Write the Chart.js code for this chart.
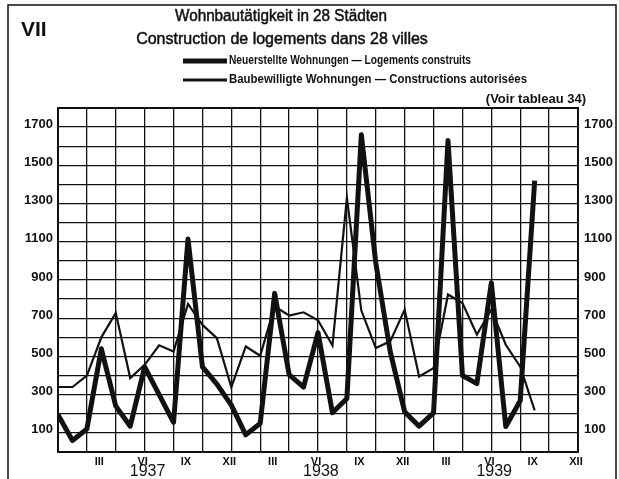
<!DOCTYPE html>
<html>
<head>
<meta charset="utf-8">
<script src="https://cdn.jsdelivr.net/npm/chart.js@4"></script>
<style>
  html, body { margin: 0; padding: 0; background: #fff; }
</style>
</head>
<body>
<canvas id="chart" width="619" height="479"></canvas>
<script>
// monthly values, index 0 = Dec 1936 ... 33 = Sep 1939
const neuerstellte = [195, 60, 120, 540, 240, 135, 445, 300, 155, 1115, 445, 355,
    245, 90, 150, 830, 405, 340, 625, 205, 280, 1660, 990, 525,
    210, 135, 205, 1630, 400, 358, 885, 133, 268, 1420];
const baubewilligte = [340, 340, 400, 600, 728, 387, 456, 558, 526, 775, 665, 596,
    339, 552, 504, 762, 714, 731, 689, 557, 1330, 740, 544, 579,
    745, 395, 439, 824, 780, 614, 745, 561, 446, 218];
const quarterLabels = ['III', 'VI', 'IX', 'XII'];
const years = ['1937', '1938', '1939'];
const titleLines = ['Wohnbautätigkeit in 28 Städten', 'Construction de logements dans 28 villes'];
const legendLabels = ['Neuerstellte Wohnungen — Logements construits',
    'Baubewilligte Wohnungen — Constructions autorisées'];
const note = '(Voir tableau 34)';

const FONT = '"Liberation Sans", Arial, sans-serif';

const decor = {
    id: 'decor',
    afterDraw(chart) {
        const ctx = chart.ctx;
        const xs = chart.scales.x;
        ctx.save();
        // outer frame
        ctx.strokeStyle = '#111';
        ctx.lineWidth = 1.5;
        ctx.beginPath();
        ctx.moveTo(8, 479); ctx.lineTo(8, 5); ctx.lineTo(616, 5); ctx.lineTo(616, 479);
        ctx.stroke();

        ctx.fillStyle = '#111';
        ctx.textBaseline = 'middle';
        ctx.textAlign = 'left';
        ctx.font = 'bold 21px ' + FONT;
        ctx.fillText('VII', 21, 30);

        // titles, slightly heavier than regular
        ctx.textAlign = 'center';
        ctx.font = '16px ' + FONT;
        ctx.lineWidth = 0.5;
        ctx.fillText(titleLines[0], 281, 17, 212);
        ctx.strokeText(titleLines[0], 281, 17, 212);
        ctx.fillText(titleLines[1], 282, 40, 300);
        ctx.strokeText(titleLines[1], 282, 40, 300);

        // legend
        ctx.textAlign = 'left';
        ctx.font = 'bold 12px ' + FONT;
        ctx.lineCap = 'butt';
        ctx.lineWidth = 5;
        ctx.beginPath(); ctx.moveTo(183, 61); ctx.lineTo(227, 61); ctx.stroke();
        ctx.fillText(legendLabels[0], 229, 61, 242);
        ctx.lineWidth = 3;
        ctx.beginPath(); ctx.moveTo(183, 80); ctx.lineTo(227, 80); ctx.stroke();
        ctx.fillText(legendLabels[1], 229, 80, 298);
        ctx.textAlign = 'right';
        ctx.font = 'bold 13px ' + FONT;
        ctx.fillText(note, 586, 99);

        // years under the month labels
        ctx.textAlign = 'center';
        ctx.font = '16px ' + FONT;
        years.forEach((yr, i) => {
            ctx.fillText(yr, xs.getPixelForValue(i * 12 + 6.2), 472);
        });
        ctx.restore();
    }
};

const yTick = v => (v % 200 === 100 ? String(v) : '');

new Chart(document.getElementById('chart'), {
    type: 'line',
    data: {
        datasets: [{
            label: legendLabels[0],
            data: neuerstellte.map((v, i) => ({ x: i, y: v })),
            borderColor: '#111',
            borderWidth: 5,
            borderJoinStyle: 'round',
            pointRadius: 0,
            tension: 0
        }, {
            label: legendLabels[1],
            data: baubewilligte.map((v, i) => ({ x: i, y: v })),
            borderColor: '#111',
            borderWidth: 2.2,
            pointRadius: 0,
            tension: 0
        }]
    },
    options: {
        responsive: false,
        animation: false,
        layout: { padding: { top: 108, left: 0, right: 0, bottom: 0 } },
        plugins: { legend: { display: false }, tooltip: { enabled: false }, title: { display: false } },
        scales: {
            x: {
                type: 'linear',
                min: 0,
                max: 36,
                afterFit(scale) { scale.height = 27; },
                border: { display: true, color: '#111', width: 2 },
                grid: {
                    drawTicks: false,
                    lineWidth: 1.3,
                    color: c => (c.tick && c.tick.value % 2 === 0 ? '#111' : 'rgba(0,0,0,0)')
                },
                ticks: {
                    stepSize: 1,
                    autoSkip: false,
                    maxRotation: 0,
                    padding: 3,
                    labelOffset: -2,
                    color: '#111',
                    font: { family: FONT, size: 11, weight: 'bold' },
                    callback: v => (v > 0 && v % 3 === 0 ? quarterLabels[(v / 3 - 1) % 4] : '')
                }
            },
            y: {
                min: 0,
                max: 1800,
                afterFit(scale) { scale.width = 58; },
                border: { display: true, color: '#111', width: 2 },
                grid: {
                    drawTicks: false,
                    lineWidth: c => (c.tick && c.tick.value === 1800 ? 2 : 1.3),
                    color: '#111'
                },
                ticks: {
                    stepSize: 100,
                    padding: 5,
                    labelOffset: -3,
                    color: '#111',
                    font: { family: FONT, size: 13, weight: 'bold' },
                    callback: yTick
                }
            },
            y2: {
                position: 'right',
                min: 0,
                max: 1800,
                afterFit(scale) { scale.width = 41; },
                border: { display: true, color: '#111', width: 2 },
                grid: { display: false, drawTicks: false },
                ticks: {
                    stepSize: 100,
                    padding: 6,
                    labelOffset: -3,
                    color: '#111',
                    font: { family: FONT, size: 13, weight: 'bold' },
                    callback: yTick
                }
            }
        }
    },
    plugins: [decor]
});
</script>
</body>
</html>
